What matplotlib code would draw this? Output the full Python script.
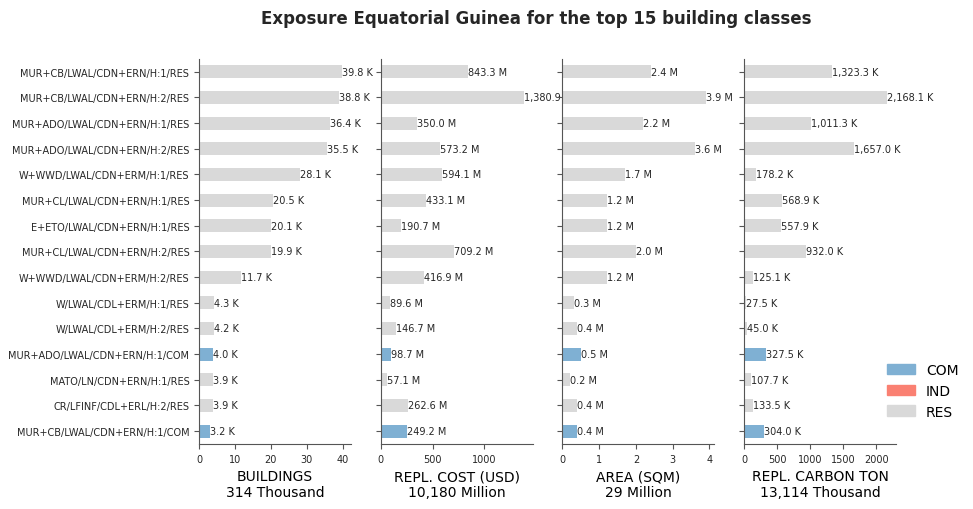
import matplotlib
matplotlib.use('Agg')
import matplotlib.pyplot as plt
from matplotlib.patches import Patch

# ── Data ────────────────────────────────────────────────────────────────────
classes = [
    'MUR+CB/LWAL/CDN+ERN/H:1/RES',
    'MUR+CB/LWAL/CDN+ERN/H:2/RES',
    'MUR+ADO/LWAL/CDN+ERN/H:1/RES',
    'MUR+ADO/LWAL/CDN+ERN/H:2/RES',
    'W+WWD/LWAL/CDN+ERM/H:1/RES',
    'MUR+CL/LWAL/CDN+ERN/H:1/RES',
    'E+ETO/LWAL/CDN+ERN/H:1/RES',
    'MUR+CL/LWAL/CDN+ERN/H:2/RES',
    'W+WWD/LWAL/CDN+ERM/H:2/RES',
    'W/LWAL/CDL+ERM/H:1/RES',
    'W/LWAL/CDL+ERM/H:2/RES',
    'MUR+ADO/LWAL/CDN+ERN/H:1/COM',
    'MATO/LN/CDN+ERN/H:1/RES',
    'CR/LFINF/CDL+ERL/H:2/RES',
    'MUR+CB/LWAL/CDN+ERN/H:1/COM',
]
occupancy = [c.split('/')[-1] for c in classes]

buildings = [39.8, 38.8, 36.4, 35.5, 28.1, 20.5, 20.1, 19.9, 11.7, 4.3, 4.2, 4.0, 3.9, 3.9, 3.2]
repl_cost = [843.3, 1380.9, 350.0, 573.2, 594.1, 433.1, 190.7, 709.2, 416.9, 89.6, 146.7, 98.7, 57.1, 262.6, 249.2]
area = [2.4, 3.9, 2.2, 3.6, 1.7, 1.2, 1.2, 2.0, 1.2, 0.3, 0.4, 0.5, 0.2, 0.4, 0.4]
carbon = [1323.3, 2168.1, 1011.3, 1657.0, 178.2, 568.9, 557.9, 932.0, 125.1, 27.5, 45.0, 327.5, 107.7, 133.5, 304.0]

panels = [
    (buildings, 'K', 'BUILDINGS\n314 Thousand'),
    (repl_cost, 'M', 'REPL. COST (USD)\n10,180 Million'),
    (area, 'M', 'AREA (SQM)\n29 Million'),
    (carbon, 'K', 'REPL. CARBON TON\n13,114 Thousand'),
]

colors = {'COM': '#7fb0d3', 'IND': '#fa8072', 'RES': '#d9d9d9'}

# ── Plot ────────────────────────────────────────────────────────────────────
fig = plt.figure(figsize=(9.73, 5.1), dpi=100)

left0, width, gap = 0.2045, 0.156, 0.0308
bottom, height = 0.1275, 0.755
ypos = list(range(len(classes)))[::-1]
bar_colors = [colors[o] for o in occupancy]

for i, (vals, unit, label) in enumerate(panels):
    ax = fig.add_axes([left0 + i * (width + gap), bottom, width, height])
    ax.barh(ypos, vals, height=0.5, color=bar_colors)
    for y, v in zip(ypos, vals):
        ax.text(v, y, f'{v:,.1f} {unit}', va='center', ha='left', fontsize=7,
                color='#262626')
    ax.set_xlim(0, max(vals) * 1.06)
    ax.set_ylim(-0.5, len(classes) - 0.5)
    ax.set_yticks(ypos)
    ax.tick_params(which='both', color='#555555', labelcolor='#262626')
    if i == 0:
        ax.set_yticklabels(classes, fontsize=7)
    else:
        ax.set_yticklabels([])
    ax.tick_params(axis='x', labelsize=7)
    ax.set_xlabel(label, fontsize=10)
    for s in ['top', 'right']:
        ax.spines[s].set_visible(False)
    for s in ['left', 'bottom']:
        ax.spines[s].set_color('#555555')

handles = [Patch(color=colors[k], label=k) for k in ['COM', 'IND', 'RES']]
fig.legend(handles=handles, loc='center left', bbox_to_anchor=(0.899, 0.232),
           frameon=False, fontsize=10, handlelength=2.0, handleheight=0.8)

fig.suptitle('Exposure Equatorial Guinea for the top 15 building classes',
             x=0.551, y=0.98, fontsize=12, fontweight='bold', color='#262626')

plt.savefig('out.png', dpi=100)
